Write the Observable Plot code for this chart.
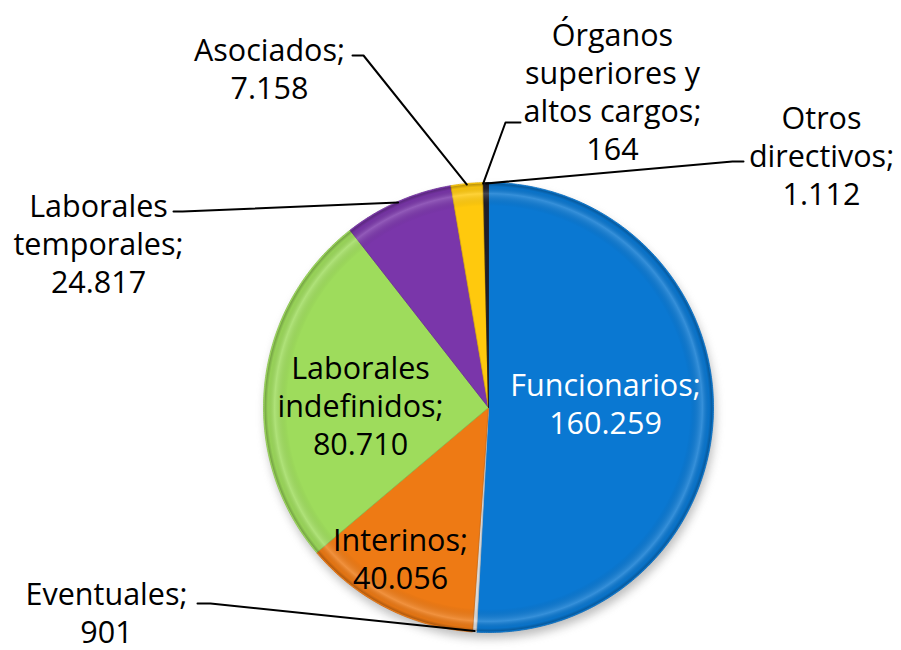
<!DOCTYPE html>
<html>
<head>
<meta charset="utf-8">
<script src="https://cdn.jsdelivr.net/npm/d3@7"></script>
<script src="https://cdn.jsdelivr.net/npm/@observablehq/plot@0.6"></script>
<style>
  html, body { margin: 0; padding: 0; background: #fff; }
  #chart { width: 901px; height: 650px; overflow: hidden; }
</style>
</head>
<body>
<div id="chart"></div>
<script>
// ---- data ----
const categories = ["Funcionarios", "Eventuales", "Interinos", "Laborales indefinidos", "Laborales temporales", "Asociados", "Órganos superiores y altos cargos", "Otros directivos"];
const values = [160259, 901, 40056, 80710, 24817, 7158, 164, 1112];
const valueLabels = ["160.259", "901", "40.056", "80.710", "24.817", "7.158", "164", "1.112"];
const categoryLines = [["Funcionarios;"], ["Eventuales;"], ["Interinos;"], ["Laborales", "indefinidos;"], ["Laborales", "temporales;"], ["Asociados;"], ["Órganos", "superiores y", "altos cargos;"], ["Otros", "directivos;"]];
const sliceColors = ["#0A78D2", "#D8D8D8", "#EE7A14", "#9EDC5C", "#7A36AA", "#FFC90D", "#E0A800", "#1E1E2A"];

// ---- layout (pixel space) ----
const W = 901, H = 650;
const CX = 488, CY = 407, R = 225;
const FS = 30.5, LH = 38;
const labelPos = [
  {x: 605, b: 390, color: "#fff"},
  {x: 106, b: 599, color: "#000"},
  {x: 400, b: 545, color: "#000"},
  {x: 360, b: 373, color: "#000"},
  {x: 98,  b: 211, color: "#000"},
  {x: 269, b: 55,  color: "#000"},
  {x: 612, b: 40,  color: "#000"},
  {x: 821, b: 123, color: "#000"}
];
// leader line start (at label) and elbow, for outside labels
const leaders = [
  null,
  [[197, 603], [210, 603]],
  null,
  null,
  [[173, 211], [182, 211]],
  [[352, 55], [363, 55]],
  [[520, 122], [505, 122]],
  [[743, 161], [732, 161]]
];

const arcs = d3.pie().sort(null).value(d => d)(values);
const pt = (a, r) => [CX + r * Math.sin(a), CY - r * Math.cos(a)];

// slice polygons
const slicePts = [];
arcs.forEach((a, i) => {
  slicePts.push({k: i, x: CX, y: CY});
  const n = Math.max(2, Math.ceil((a.endAngle - a.startAngle) / 0.01));
  for (let j = 0; j <= n; j++) {
    const ang = a.startAngle + (a.endAngle - a.startAngle) * j / n;
    const [x, y] = pt(ang, R);
    slicePts.push({k: i, x, y});
  }
  slicePts.push({k: i, x: CX, y: CY});
});

// leader lines
const leaderPts = [];
arcs.forEach((a, i) => {
  if (!leaders[i]) return;
  const mid = (a.startAngle + a.endAngle) / 2;
  const [ex, ey] = pt(mid, R - 1);
  leaderPts.push({k: i, x: leaders[i][0][0], y: leaders[i][0][1]});
  leaderPts.push({k: i, x: leaders[i][1][0], y: leaders[i][1][1]});
  leaderPts.push({k: i, x: ex, y: ey});
});

// labels
const labels = categories.map((c, i) => ({
  text: categoryLines[i].join("\n") + "\n" + valueLabels[i],
  x: labelPos[i].x,
  y: labelPos[i].b - 0.71 * FS,
  color: labelPos[i].color
}));

const plot = Plot.plot({
  width: W, height: H,
  margin: 0,
  x: {domain: [0, W], range: [0, W], axis: null},
  y: {domain: [0, H], range: [0, H], axis: null},
  color: {type: "identity"},
  style: {background: "transparent"},
  marks: [
    Plot.dot([{x: CX, y: CY}], {x: "x", y: "y", r: R, fill: "#000", className: "pie-shadow"}),
    Plot.line(slicePts, {x: "x", y: "y", z: "k", fill: d => sliceColors[d.k], stroke: d => d3.color(sliceColors[d.k]).darker(0.4).formatHex(), strokeWidth: 0.8, curve: "linear"}),
    Plot.dot([{x: CX, y: CY}], {x: "x", y: "y", r: R - 1, fill: "#000", className: "pie-bevel"}),
    Plot.line(leaderPts, {x: "x", y: "y", z: "k", stroke: "#000", strokeWidth: 2}),
    Plot.text(labels, {x: "x", y: "y", text: "text", fill: "color", fontSize: FS, lineHeight: LH / FS, lineAnchor: "top", textAnchor: "middle", fontFamily: "Open Sans"})
  ]
});

// decoration: soft shadow and bevel gradient
const svg = d3.select(plot);
const defs = svg.insert("defs", ":first-child");
defs.append("filter").attr("id", "blur").attr("x", "-20%").attr("y", "-20%").attr("width", "140%").attr("height", "140%")
  .append("feGaussianBlur").attr("stdDeviation", 5);
const g = defs.append("radialGradient").attr("id", "bevel");
[[0, "#000", 0], [0.9, "#000", 0], [0.955, "#fff", 0.18], [0.985, "#000", 0.05], [1, "#000", 0.28]].forEach(([o, c, a]) =>
  g.append("stop").attr("offset", o).attr("stop-color", c).attr("stop-opacity", a));
svg.selectAll(".pie-shadow circle").attr("fill", "#888").attr("opacity", 0.55).attr("filter", "url(#blur)").attr("transform", function() { return (this.getAttribute("transform") || "") + " translate(2,6)"; });
svg.selectAll(".pie-bevel circle").attr("fill", "url(#bevel)");

document.getElementById("chart").appendChild(plot);
</script>
</body>
</html>
